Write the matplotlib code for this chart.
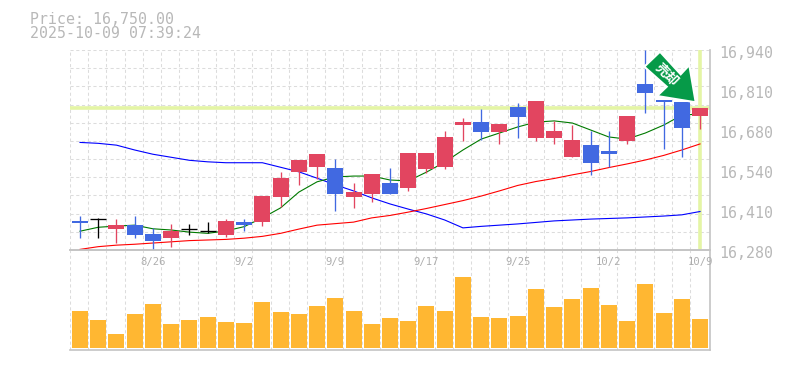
import matplotlib
matplotlib.use('Agg')
import matplotlib.pyplot as plt
import numpy as np
from matplotlib.patches import Polygon

# candles, oldest first
opens = [16377, 16382, 16349, 16362, 16333, 16320, 16350, 16342, 16330, 16372,
         16372, 16455, 16537, 16554, 16551, 16455, 16465, 16501, 16485, 16547,
         16554, 16692, 16702, 16669, 16752, 16650, 16650, 16587, 16626, 16607,
         16640, 16828, 16775, 16768, 16722]
closes = [16369, 16382, 16362, 16329, 16310, 16343, 16350, 16342, 16376, 16362,
          16458, 16518, 16577, 16597, 16465, 16471, 16531, 16465, 16600, 16600,
          16653, 16702, 16669, 16696, 16719, 16772, 16673, 16643, 16567, 16597,
          16722, 16798, 16768, 16683, 16750]
highs = [16392, 16385, 16382, 16392, 16353, 16366, 16366, 16372, 16382, 16382,
         16458, 16537, 16577, 16597, 16580, 16501, 16531, 16551, 16600, 16600,
         16673, 16716, 16745, 16696, 16765, 16772, 16706, 16692, 16673, 16673,
         16722, 16940, 16775, 16768, 16750]
lows = [16321, 16321, 16303, 16321, 16278, 16290, 16330, 16337, 16323, 16343,
        16359, 16422, 16494, 16514, 16409, 16419, 16438, 16465, 16475, 16534,
        16547, 16640, 16643, 16630, 16650, 16640, 16630, 16587, 16527, 16554,
        16630, 16732, 16613, 16587, 16679]

ma_short = [16342, 16355, 16359, 16362, 16350, 16346, 16339, 16335, 16343, 16357,
            16386, 16419, 16471, 16505, 16521, 16524, 16524, 16511, 16508, 16537,
            16570, 16610, 16646, 16666, 16686, 16702, 16706, 16699, 16676, 16653,
            16646, 16666, 16692, 16725, 16729]
ma_mid = [16282, 16291, 16296, 16299, 16303, 16307, 16311, 16313, 16315, 16319,
          16325, 16335, 16349, 16362, 16367, 16372, 16386, 16394, 16405, 16417,
          16430, 16443, 16458, 16475, 16493, 16506, 16516, 16528, 16539, 16552,
          16564, 16577, 16592, 16610, 16630]
ma_long = [16635, 16632, 16626, 16610, 16596, 16586, 16576, 16571, 16568, 16568,
           16568, 16553, 16538, 16517, 16495, 16475, 16452, 16432, 16415, 16399,
           16379, 16353, 16358, 16362, 16366, 16371, 16376, 16379, 16382, 16384,
           16386, 16389, 16392, 16396, 16407]

volumes = [111, 84, 42, 102, 132, 72, 84, 93, 78, 75, 138, 108, 102, 126, 150, 111,
           72, 90, 81, 126, 111, 213, 93, 90, 96, 177, 123, 147, 180, 129, 81, 192,
           105, 147, 87]

price_labels = ['16,940', '16,810', '16,680', '16,540', '16,410', '16,280']
date_pos = [4, 9, 14, 19, 24, 29, 34]
date_labels = ['8/26', '9/2', '9/9', '9/17', '9/25', '10/2', '10/9']
last_price = 16750
price_text = 'Price: 16,750.00'
time_text = '2025-10-09 07:39:24'
signal_text = '売却'

W, H = 785, 370
RED = '#e24560'
BLUE = '#4169e1'
GREY = '#b8b8b8'
GRID = '#dcdcdc'
HILITE = '#e4f5a5'
MONO = 'DejaVu Sans Mono'


def fig_xy(x, y):
    return x / W, 1 - y / H


fig = plt.figure(figsize=(W / 100, H / 100), dpi=100)
ax = fig.add_axes([70 / W, 1 - 250 / H, 640 / W, 200 / H])
vol = fig.add_axes([70 / W, 1 - 350 / H, 640 / W, 100 / H])

x = np.arange(len(opens))
grid_x = x - 0.55

for a in (ax, vol):
    a.set_xlim(-0.548, 34.548)
    a.set_xticks([])
    a.set_yticks([])
    a.patch.set_alpha(0)
    for side in ('left', 'top'):
        a.spines[side].set_visible(False)
    for side in ('right', 'bottom'):
        a.spines[side].set_color('#c4c4c4')
        a.spines[side].set_linewidth(1.2)
    for gx in grid_x:
        a.axvline(gx, color=GRID, lw=0.75, ls=(0, (3, 2.5)), zorder=1)
vol.spines['top'].set_visible(True)
vol.spines['top'].set_color('#c4c4c4')
vol.spines['top'].set_linewidth(1.2)

# Price panel
ax.set_ylim(16280, 16940)
for gy in np.linspace(16280, 16940, 12)[1:]:
    ax.axhline(gy, color=GRID, lw=0.75, ls=(0, (3, 2.5)), zorder=1)

ax.axhline(last_price, color=HILITE, lw=2.6, zorder=2)
ax.axvline(x[-1], color=HILITE, lw=2.6, zorder=2)

ax.plot(x, ma_long, color='#0000ff', lw=0.8, zorder=3)
ax.plot(x, ma_short, color='#007a00', lw=0.8, zorder=3)
ax.plot(x, ma_mid, color='#ff0000', lw=0.8, zorder=3)

for i in x:
    o, c = opens[i], closes[i]
    col = 'black' if o == c else (RED if c > o else BLUE)
    ax.vlines(i, lows[i], highs[i], color=col, lw=0.95, zorder=4)
    if o == c:
        ax.hlines(o, i - 0.44, i + 0.44, color=col, lw=0.95, zorder=4)
    else:
        ax.bar(i, abs(c - o), bottom=min(o, c), width=0.88, color=col, zorder=4)

for tick, label in zip(np.linspace(16940, 16280, 6), price_labels):
    ax.annotate(label, xy=(1, tick), xycoords=ax.get_yaxis_transform(),
                xytext=(9, -3), textcoords='offset pixels', va='center', ha='left',
                fontsize=10.7, family=MONO, color=GREY, annotation_clip=False)

# Volume panel
vol.set_ylim(-6, 294)
vol.bar(x, volumes, width=0.88, color='#ffb732', zorder=3)
for pos, label in zip(date_pos, date_labels):
    vol.text(pos, 0.88, label, transform=vol.get_xaxis_transform(), ha='center', va='center',
             fontsize=7.6, family=MONO, color='#aeaeae', zorder=4, clip_on=False)

# Header
fig.text(30 / W, 1 - 19 / H, price_text, fontsize=10.7, family=MONO, color=GREY, va='center')
fig.text(30 / W, 1 - 34 / H, time_text, fontsize=10.7, family=MONO, color=GREY, va='center')

# Signal arrow
arrow_px = [(660, 51.7), (644.3, 66.7), (666.7, 86.7), (657, 96), (695.7, 102.3),
            (689.3, 65), (680.7, 74.3)]
fig.add_artist(Polygon([fig_xy(*p) for p in arrow_px], closed=True, transform=fig.transFigure,
                       facecolor='#069a48', edgecolor='white', lw=1.5, zorder=5))
fig.text(*fig_xy(666.5, 74.5), signal_text, rotation=-45, rotation_mode='anchor',
         ha='center', va='center', fontsize=9.5, fontweight='bold',
         family=['Noto Sans CJK JP', 'DejaVu Sans'], color='white', zorder=6)

fig.savefig('out.png', dpi=100)
